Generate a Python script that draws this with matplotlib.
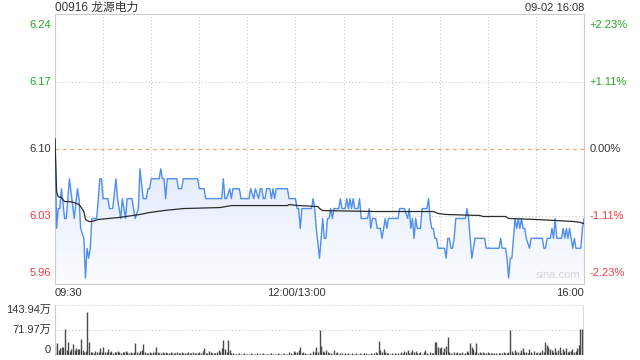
import numpy as np
import matplotlib
matplotlib.use('Agg')
import matplotlib.pyplot as plt
from matplotlib.colors import LinearSegmentedColormap

plt.rcParams['font.family'] = ['Liberation Sans', 'Noto Sans CJK SC', 'DejaVu Sans']

# Data
title = '00916 龙源电力'
stamp = '09-02 16:08'
prev_close = 6.10
pct_levels = [0.0223, 0.0111, 0.0, -0.0111, -0.0223]
price_labels = ['6.24', '6.17', '6.10', '6.03', '5.96']
pct_labels = ['+2.23%', '+1.11%', '0.00%', '-1.11%', '-2.23%']
time_labels = ['09:30', '12:00/13:00', '16:00']
vol_ticks = [143.94, 71.97, 0]
vol_labels = ['143.94万', '71.97万', '0']

# price polyline (minute since 09:30, lunch removed)
price_min = [0, 1, 2, 3, 4, 6, 7, 9, 12, 14, 15, 16, 18, 19, 20, 21, 22, 23, 26, 28,
             29, 30, 33, 34, 36, 38, 39, 41, 42, 44, 45, 48, 50, 52, 53, 55, 57, 58, 59, 60,
             65, 66, 67, 68, 69, 70, 76, 77, 79, 80, 89, 90, 93, 94, 104, 105, 106, 107, 109, 110,
             111, 115, 116, 121, 122, 124, 125, 127, 128, 129, 130, 131, 132, 134, 135, 136, 137, 138, 145, 146,
             150, 151, 152, 153, 154, 160, 161, 162, 163, 165, 166, 167, 168, 169, 170, 171, 172, 173, 174, 177,
             178, 179, 181, 182, 183, 184, 185, 186, 187, 189, 190, 191, 195, 196, 197, 198, 200, 201, 203, 204,
             205, 206, 207, 208, 214, 215, 218, 220, 221, 222, 223, 224, 225, 226, 228, 229, 232, 233, 234, 235,
             236, 237, 238, 239, 243, 244, 245, 246, 247, 248, 249, 250, 256, 257, 258, 259, 260, 261, 262, 268,
             269, 277, 278, 279, 281, 282, 283, 284, 285, 286, 287, 288, 289, 290, 291, 292, 293, 294, 296, 297,
             304, 305, 306, 307, 309, 310, 311, 312, 313, 316, 317, 318, 319, 320, 321, 322, 323, 324, 325, 328,
             329, 330]
price_val = [6.11, 6.02, 6.04, 6.04, 6.06, 6.03, 6.03, 6.07, 6.03, 6.06, 6.05, 6.02, 6.01, 5.97, 6.00, 5.99, 6.00, 6.03, 6.03, 6.07,
             6.07, 6.05, 6.05, 6.04, 6.04, 6.07, 6.05, 6.03, 6.05, 6.03, 6.05, 6.05, 6.03, 6.04, 6.08, 6.05, 6.05, 6.06, 6.06, 6.07,
             6.07, 6.08, 6.07, 6.07, 6.05, 6.07, 6.07, 6.06, 6.06, 6.07, 6.07, 6.06, 6.06, 6.05, 6.05, 6.07, 6.05, 6.05, 6.06, 6.05,
             6.06, 6.06, 6.05, 6.05, 6.06, 6.05, 6.06, 6.05, 6.06, 6.06, 6.05, 6.05, 6.06, 6.06, 6.05, 6.06, 6.05, 6.06, 6.06, 6.05,
             6.05, 6.04, 6.04, 6.02, 6.04, 6.04, 6.05, 6.04, 6.02, 5.99, 6.01, 6.03, 6.01, 6.01, 6.03, 6.03, 6.04, 6.03, 6.04, 6.04,
             6.05, 6.04, 6.04, 6.05, 6.04, 6.05, 6.04, 6.05, 6.04, 6.04, 6.05, 6.03, 6.03, 6.04, 6.02, 6.03, 6.03, 6.02, 6.02, 6.01,
             6.02, 6.03, 6.02, 6.03, 6.03, 6.04, 6.04, 6.03, 6.04, 6.02, 6.03, 6.01, 6.03, 6.02, 6.02, 6.04, 6.04, 6.05, 6.03, 6.02,
             6.02, 6.01, 6.01, 6.00, 6.00, 5.99, 6.01, 6.01, 6.00, 6.00, 6.01, 6.03, 6.03, 6.04, 6.03, 6.01, 5.99, 6.00, 6.01, 6.01,
             6.00, 6.00, 6.01, 6.00, 6.00, 5.99, 5.97, 5.99, 5.99, 6.01, 6.03, 6.02, 6.03, 6.02, 6.03, 6.02, 6.02, 6.01, 6.00, 6.01,
             6.01, 6.00, 6.00, 6.01, 6.01, 6.02, 6.01, 6.03, 6.01, 6.01, 6.02, 6.01, 6.02, 6.01, 6.02, 6.01, 6.00, 6.01, 6.00, 6.00,
             6.02, 6.03]

# average price line
avg_min = [0, 1, 2, 4, 6, 9, 12, 15, 16, 18, 19, 21, 23, 27, 40, 53, 59, 68, 80, 103,
           110, 145, 146, 152, 164, 165, 167, 200, 220, 236, 239, 244, 265, 267, 281, 283, 300, 323, 328, 329,
           330]
avg_val = [6.11, 6.057, 6.052, 6.051, 6.047, 6.047, 6.046, 6.044, 6.042, 6.037, 6.029, 6.027, 6.027, 6.029, 6.031, 6.034, 6.036, 6.038, 6.040, 6.041,
           6.043, 6.043, 6.044, 6.043, 6.042, 6.040, 6.038, 6.037, 6.037, 6.037, 6.035, 6.034, 6.033, 6.032, 6.032, 6.030, 6.029, 6.027, 6.026, 6.025,
           6.025]

# volume per minute (万)
volume = [30, 35, 15, 20, 24, 22, 75, 14, 38, 12, 18, 32, 14, 20, 18, 16, 46, 14, 10, 12, 125, 38, 8, 10, 6, 12, 8, 9, 20, 10,
          24, 8, 9, 16, 8, 12, 7, 10, 8, 12, 8, 6, 10, 9, 12, 8, 6, 10, 7, 9, 35, 10, 6, 12, 14, 32, 10, 6, 5, 8,
          7, 9, 10, 24, 8, 6, 5, 8, 6, 9, 5, 6, 8, 5, 7, 6, 9, 5, 6, 8, 5, 6, 7, 9, 5, 6, 8, 5, 7, 6,
          8, 5, 12, 20, 6, 5, 12, 8, 5, 6, 7, 9, 14, 10, 20, 43, 16, 8, 43, 14, 6, 5, 4, 3, 4, 5, 3, 4, 5, 3,
          4, 3, 5, 4, 3, 4, 5, 3, 4, 3, 5, 4, 3, 4, 3, 5, 4, 3, 4, 6, 4, 3, 4, 5, 3, 4, 8, 6, 4, 12,
          8, 10, 14, 24, 6, 10, 5, 4, 3, 6, 4, 12, 8, 24, 10, 72, 26, 12, 8, 14, 10, 6, 7, 3, 14, 6, 9, 4, 5, 7,
          4, 5, 3, 6, 4, 5, 3, 4, 6, 3, 5, 4, 3, 5, 6, 4, 3, 5, 4, 6, 8, 5, 40, 14, 10, 16, 8, 5, 6, 4,
          5, 4, 6, 4, 5, 4, 10, 6, 12, 8, 15, 6, 10, 14, 8, 12, 5, 7, 10, 4, 8, 13, 5, 4, 8, 5, 6, 37, 38, 24,
          20, 24, 10, 19, 25, 51, 8, 6, 4, 10, 5, 8, 6, 5, 9, 4, 6, 12, 8, 34, 24, 18, 8, 35, 6, 8, 5, 10, 7, 6,
          8, 5, 6, 7, 5, 6, 4, 7, 5, 6, 8, 5, 7, 10, 72, 12, 6, 14, 8, 10, 6, 14, 20, 8, 10, 6, 18, 8, 4, 12,
          6, 10, 5, 8, 14, 8, 37, 30, 24, 18, 14, 10, 20, 8, 14, 22, 6, 16, 12, 20, 8, 12, 12, 16, 8, 12, 20, 28, 74, 74,
          144]

green = '#22a722'
red = '#f23d3d'
dark = '#333333'
grid_c = '#cccccc'

fig = plt.figure(figsize=(6.4, 3.6), dpi=100)
ax = fig.add_axes([55 / 640, 1 - 284 / 360, 529 / 640, 270 / 360])
vax = fig.add_axes([55 / 640, 1 - 355 / 360, 529 / 640, 50 / 360])

n_min = len(volume) - 1
levels = [prev_close * (1 + p) for p in pct_levels]
lo, hi = levels[-1], levels[0]

# gradient fill under the price line
poly = ax.fill_between(price_min, price_val, lo, color='none', lw=0)
cmap = LinearSegmentedColormap.from_list('f', ['#fbfcff', '#e3ecfb'])
grad = np.linspace(0, 1, 256).reshape(-1, 1)
im = ax.imshow(grad, cmap=cmap, extent=[0, n_min, lo, 6.08], origin='lower', aspect='auto', zorder=1)
im.set_clip_path(poly.get_paths()[0], transform=ax.transData)

ax.plot(price_min, price_val, color='#4f8ef0', lw=1.0, zorder=3)
ax.plot(avg_min, avg_val, color='#2b2b2b', lw=0.9, zorder=4)

for m in range(30, n_min, 30):
    ax.axvline(m, color=grid_c, lw=0.8, ls=(0, (1, 2)), zorder=0)
for lv in (levels[1], levels[3]):
    ax.axhline(lv, color=grid_c, lw=0.8, ls=(0, (1, 2)), zorder=0)
ax.axhline(prev_close, color='#f4a46c', lw=0.9, ls=(0, (3, 3)), zorder=2)

ax.set_xlim(0, n_min)
ax.set_ylim(lo, hi)
ax.set_xticks([])
ax.set_yticks([])
for s in ax.spines.values():
    s.set_color(grid_c)
    s.set_linewidth(0.8)

tcol = [green, green, dark, red, red]
vas = ['top', 'center', 'center', 'center', 'bottom']
for lv, pl, cl, c, va in zip(levels, price_labels, pct_labels, tcol, vas):
    off = -0.6 if va == 'top' else (0.6 if va == 'bottom' else 0)
    y = lv + off * 0.01
    ax.text(-0.008, y, pl, transform=ax.get_yaxis_transform(), ha='right', va=va, color=c, fontsize=8)
    ax.text(1.011, y, cl, transform=ax.get_yaxis_transform(), ha='left', va=va, color=c, fontsize=8)

ax.text(0.993, 0.015, 'sina.com', transform=ax.transAxes, ha='right', va='bottom', color='#d4d4d4', fontsize=8)

# time labels and header
ty = 1 - 293 / 360
fig.text(55 / 640, ty, time_labels[0], ha='left', va='center', color=dark, fontsize=8)
fig.text(296 / 640, ty, time_labels[1], ha='center', va='center', color=dark, fontsize=8)
fig.text(584 / 640, ty, time_labels[2], ha='right', va='center', color=dark, fontsize=8)
fig.text(55 / 640, 1 - 8 / 360, title, ha='left', va='center', color=dark, fontsize=8.5)
fig.text(584 / 640, 1 - 8 / 360, stamp, ha='right', va='center', color=dark, fontsize=8)

# volume panel
vx = np.arange(len(volume))
vax.vlines(vx, 0, volume, color='#4a4a4a', lw=1.0)
vax.set_xlim(-0.3, n_min + 0.3)
vax.set_ylim(0, vol_ticks[0])
vax.axhline(vol_ticks[0], color=grid_c, lw=0.8, ls=(0, (1, 2)), zorder=0)
vax.axhline(vol_ticks[1], color=grid_c, lw=0.8, ls=(0, (1, 2)), zorder=0)
vax.set_xticks([])
vax.set_yticks([])
for k in ('top', 'right', 'bottom'):
    vax.spines[k].set_visible(False)
vax.spines['left'].set_color(grid_c)
vax.spines['left'].set_linewidth(0.8)
vvas = ['top', 'center', 'bottom']
for v, lab, va in zip(vol_ticks, vol_labels, vvas):
    vax.text(-0.008, v, lab, transform=vax.get_yaxis_transform(), ha='right', va=va, color=dark, fontsize=8)

fig.savefig('out.png', dpi=100)
